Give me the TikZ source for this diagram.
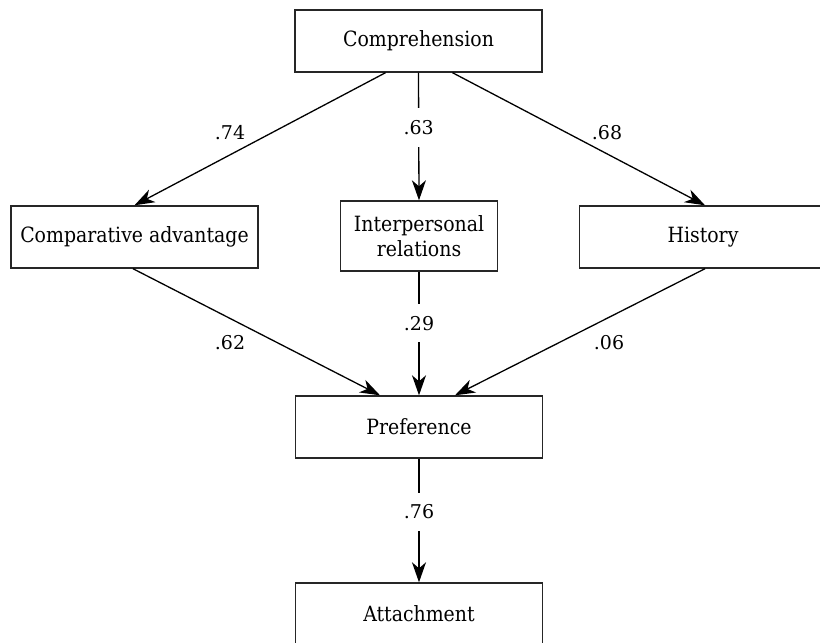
\documentclass[tikz,border=0pt]{standalone}
\usepackage{fontspec}
\setmainfont{DejaVu Serif Condensed}
\newfontfamily\lblfont{DejaVu Serif}
\usetikzlibrary{arrows.meta}
\begin{document}
\begin{tikzpicture}[x=1pt,y=-1pt,
 box/.style={draw=black!85, line width=1.4pt, minimum width=247pt, minimum height=62pt, inner sep=0pt, font=\fontsize{21}{25}\selectfont, align=center},
 lbl/.style={font=\lblfont\fontsize{19}{22}\selectfont, inner sep=1pt},
 vlbl/.style={lbl, fill=white, inner xsep=3pt, inner ysep=12pt},
 edge/.style={draw=black, line width=1.3pt, -{Stealth[length=20pt,width=14pt,inset=6pt]}}]
\useasboundingbox (0,0) rectangle (820,643);
\node[box] (comp) at (418.5,41) {Comprehension};
\node[box] (cadv) at (134.5,237) {Comparative advantage};
\node[box, minimum width=157pt, minimum height=70pt] (ipr) at (419,236) {Interpersonal\\relations};
\node[box] (hist) at (703,237) {History};
\node[box] (pref) at (419,427) {Preference};
\node[box] (att) at (419,614) {Attachment};
% top level edges
\draw[edge] ([xshift=-33pt]comp.south) -- (cadv.north);
\draw[edge] ([xshift=34pt]comp.south) -- ([xshift=2pt]hist.north);
\draw[edge] (comp.south) -- node[vlbl, pos=0.43] (l63) {.63} (ipr.north);
\node[lbl] (l74) at (230,133) {.74};
\node[lbl] (l68) at (607,133) {.68};
% middle level edges
\draw[edge] ([xshift=-1.5pt]cadv.south) -- ([xshift=-39pt]pref.north);
\draw[edge] ([xshift=2pt]hist.south) -- ([xshift=36pt]pref.north);
\draw[edge] (ipr.south) -- node[vlbl, pos=0.416] (l29) {.29} (pref.north);
\node[lbl] (l62) at (230,343) {.62};
\node[lbl] (l06) at (609,343) {.06};
% bottom edge
\draw[edge] (pref.south) -- node[vlbl, pos=0.43] (l76) {.76} (att.north);
\end{tikzpicture}
\end{document}
